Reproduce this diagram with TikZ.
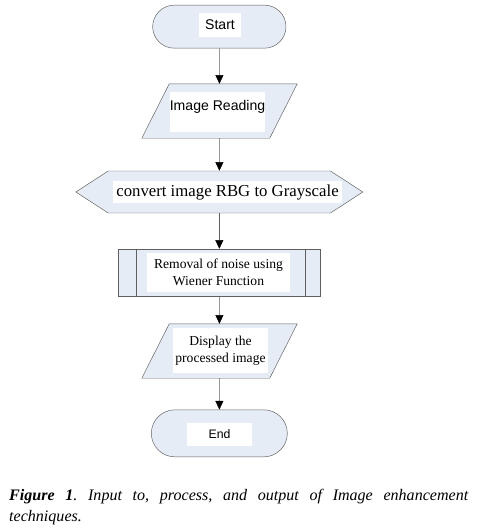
\documentclass[tikz,border=0pt]{standalone}
\usepackage{fontspec}
\setmainfont{Liberation Serif}
\newfontfamily\arialfont{Liberation Sans}
\usetikzlibrary{shapes.misc, shapes.symbols, arrows.meta}

\definecolor{boxfill}{RGB}{229,236,246}
\definecolor{boxline}{RGB}{95,95,95}

\begin{document}
\begin{tikzpicture}[
  >={Triangle[black, length=2.6mm, width=2.4mm]},
  every node/.style={inner sep=0pt},
  terminal/.style={rounded rectangle, draw=boxline, fill=boxfill},
  iobox/.style={rectangle, minimum width=4.65cm, minimum height=1.62cm},
  prepbox/.style={signal, signal to=west and east, signal pointer angle=66,
    draw=boxline, fill=boxfill, inner sep=2pt, minimum width=8.61cm, minimum height=1.26cm},
  subbox/.style={rectangle, draw=boxline, fill=boxfill,
    minimum width=6.06cm, minimum height=1.41cm,
    path picture={
      \draw[boxline] ([xshift=0.54cm]path picture bounding box.north west)
        -- ([xshift=0.54cm]path picture bounding box.south west);
      \draw[boxline] ([xshift=-0.45cm]path picture bounding box.north east)
        -- ([xshift=-0.45cm]path picture bounding box.south east);
    }},
  txtbox/.style={fill=white, align=center},
  sanstxt/.style={font=\arialfont\fontsize{12}{14}\selectfont},
  seriftxt/.style={font=\fontsize{11.6}{14}\selectfont},
  flow/.style={->, draw=boxline}
]
\useasboundingbox (0,0) rectangle (14.4,-15.87);

% shapes
\node[terminal, minimum width=4cm, minimum height=1.29cm] (start) at (6.58,-0.8) {};
\node[iobox] (read) at (6.585,-3.33) {};
\node[prepbox] (gray) at (6.58,-5.76) {};
\node[subbox] (noise) at (6.58,-8.175) {};
\node[iobox] (show) at (6.585,-10.53) {};
\node[terminal, minimum width=4.08cm, minimum height=1.41cm] (end) at (6.58,-13.0) {};

\foreach \n in {read,show}{
  \filldraw[draw=boxline, fill=boxfill] ([xshift=0.825cm]\n.north west) -- (\n.north east)
    -- ([xshift=-0.825cm]\n.south east) -- (\n.south west) -- cycle;
}

% texts
\node[txtbox, sanstxt, minimum width=1.26cm, minimum height=0.72cm] (starttxt) at (6.6,-0.75) {Start};
\node[txtbox, sanstxt, minimum width=2.85cm, text height=0.54cm, text depth=0.66cm, anchor=base]
  (readtxt) at (6.525,-3.3) {Image Reading};
\node[txtbox, font=\fontsize{14.3}{16}\selectfont, minimum width=6.87cm, minimum height=0.66cm]
  (graytxt) at (6.825,-5.76) {convert image RBG to Grayscale};
\node[txtbox, seriftxt, minimum width=4.29cm, minimum height=1.17cm]
  (noisetxt) at (6.555,-8.175) {Removal of noise using\\Wiener Function};
\node[txtbox, font=\fontsize{11.6}{14.5}\selectfont, minimum width=2.85cm, minimum height=1.35cm]
  (showtxt) at (6.615,-10.515) {Display the\\processed image};
\node[txtbox, font=\arialfont\fontsize{10.5}{12}\selectfont, minimum width=1.95cm, minimum height=0.69cm]
  (endtxt) at (6.585,-13.035) {End};

% connectors
\draw[flow] (start) -- (read);
\draw[flow] (read) -- (gray);
\draw[flow] (gray) -- (noise);
\draw[flow] (noise) -- (show);
\draw[flow] (show) -- (end);

% caption
\node[anchor=north west, text width=13.77cm, align=justify,
  font=\fontsize{13.7}{17.9}\selectfont\itshape\frenchspacing] (caption) at (0.27,-14.67)
  {\textbf{Figure 1}. Input to, process, and output of Image enhancement\linebreak techniques.};
\end{tikzpicture}
\end{document}
